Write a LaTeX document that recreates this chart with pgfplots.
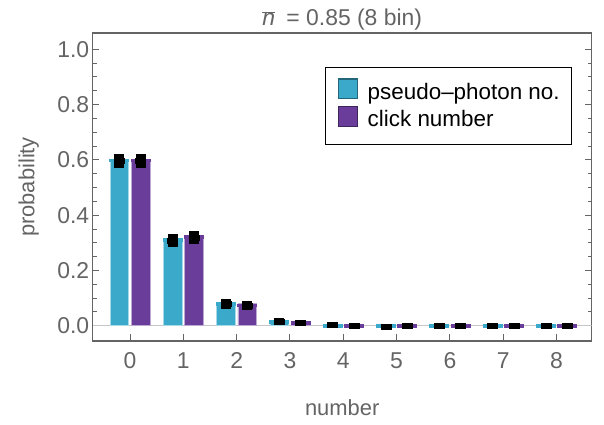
\documentclass[border=0pt]{standalone}
\usepackage{pgfplots}
\pgfplotsset{compat=1.18}
\usepackage{fontspec}
\setmainfont{Liberation Sans}
\definecolor{cyanc}{RGB}{59,169,201}
\definecolor{purc}{RGB}{106,61,154}
\definecolor{txt}{RGB}{100,100,100}
\newcommand{\fntT}{\fontsize{23}{27}\selectfont}
\newcommand{\fntL}{\fontsize{22}{26}\selectfont}
\newcommand{\fntG}{\fontsize{22.5}{26}\selectfont}
\begin{document}
\begin{tikzpicture}
\begin{axis}[
  scale only axis, width=499bp, height=308bp,
  xmin=-0.70, xmax=8.66, ymin=-0.055, ymax=1.059,
  axis line style={txt, line width=1.3bp},
  every tick/.style={txt, line width=1bp},
  tick align=inside,
  major tick length=6.5bp, minor tick length=4bp,
  xtick={0,1,2,3,4,5,6,7,8}, xticklabels={0,1,2,3,4,5,6,7,8},
  ytick={0,0.2,0.4,0.6,0.8,1.0}, yticklabels={0.0,0.2,0.4,0.6,0.8,1.0},
  minor y tick num=3,
  xtick pos=left, ytick pos=both,
  tick label style={font=\fntT, text=txt},
  xticklabel style={yshift=-8bp},
  xlabel={number}, ylabel={probability},
  label style={text=txt, font=\fntL},
  xlabel style={at={(axis description cs:0.5,0)}, anchor=base, yshift=-75bp},
  ylabel style={at={(axis description cs:0,0.5)}, anchor=center, yshift=64bp},
  legend style={at={(0.4655,0.891)}, anchor=north west, draw=black, line width=1.5bp,
    font=\fntG, text=black, inner xsep=12bp, inner ysep=11bp,
    column sep=10bp, row sep=0bp,
    nodes={inner xsep=0bp, inner ysep=2.5bp, text height=14bp, text depth=4bp}},
  legend cell align=left,
]
\addplot[gray!45, line width=1bp, forget plot] coordinates {(-0.7,0) (8.66,0)};
\addplot[ybar, bar width=0.35, bar shift=0pt, fill=cyanc, draw=cyanc!45, line width=0.6bp,
  legend image code/.code={\draw[fill=cyanc, draw=cyanc!60!black, line width=1.2bp] (0.6bp,-4.4bp) rectangle (19.4bp,15.4bp);}]
  coordinates {(-0.2,0.603) (0.8,0.317) (1.8,0.085) (2.8,0.020) (3.8,0.004) (4.8,0.001) (5.8,0.0003) (6.8,0) (7.8,0)};
\addlegendentry{pseudo--photon no.}
\addplot[ybar, bar width=0.35, bar shift=0pt, fill=purc, draw=purc!45, line width=0.6bp,
  legend image code/.code={\draw[fill=purc, draw=purc!60!black, line width=1.2bp] (0.6bp,-4.4bp) rectangle (19.4bp,15.4bp);}]
  coordinates {(0.2,0.601) (1.2,0.328) (2.2,0.080) (3.2,0.016) (4.2,0.003) (5.2,0.0008) (6.2,0) (7.2,0) (8.2,0)};
\addlegendentry{click number}
% caps
\addplot[only marks, mark=-, mark size=10bp, mark options={line width=3.5bp, draw=cyanc}, forget plot]
  coordinates {(-0.2,0.597) (0.8,0.311) (1.8,0.079) (2.8,0.014) (3.8,0.0) (4.8,0.0) (5.8,0.0) (6.8,0) (7.8,0)};
\addplot[only marks, mark=-, mark size=10bp, mark options={line width=3.5bp, draw=purc}, forget plot]
  coordinates {(0.2,0.597) (1.2,0.322) (2.2,0.074) (3.2,0.010) (4.2,0.0) (5.2,0.0) (6.2,0) (7.2,0) (8.2,0)};
% black markers with error bars
\addplot[only marks, mark=square*, mark size=5bp, mark options={black, yscale=0.5}, forget plot,
  error bars/.cd, y dir=both, y explicit, error mark=none,
  error bar style={line width=10bp, black}]
  coordinates {(-0.2,0.597) +- (0,0.025) (0.8,0.309) +- (0,0.023) (1.8,0.079) +- (0,0.018)
   (2.8,0.016) +- (0,0.012) (3.8,0.003) +- (0,0) (4.8,-0.002) +- (0,0) (5.8,0) +- (0,0) (6.8,0) +- (0,0) (7.8,0) +- (0,0)};
\addplot[only marks, mark=square*, mark size=5bp, mark options={black, yscale=0.5}, forget plot,
  error bars/.cd, y dir=both, y explicit, error mark=none,
  error bar style={line width=10bp, black}]
  coordinates {(0.2,0.597) +- (0,0.025) (1.2,0.320) +- (0,0.023) (2.2,0.074) +- (0,0.016)
   (3.2,0.012) +- (0,0.010) (4.2,0.001) +- (0,0) (5.2,0) +- (0,0) (6.2,0) +- (0,0) (7.2,0) +- (0,0) (8.2,0) +- (0,0)};
\end{axis}
\node[anchor=base, text=txt, font=\fntT] at ([yshift=7.5bp]current axis.north)
  {$\overline{\mbox{\fntT\textit{n}}}$\hspace{5bp} = 0.85 (8 bin)};
\pgfresetboundingbox
\path[use as bounding box] ([xshift=-92.7bp,yshift=-84bp]current axis.south west) rectangle ([xshift=12.3bp,yshift=33bp]current axis.north east);
\end{tikzpicture}
\end{document}
